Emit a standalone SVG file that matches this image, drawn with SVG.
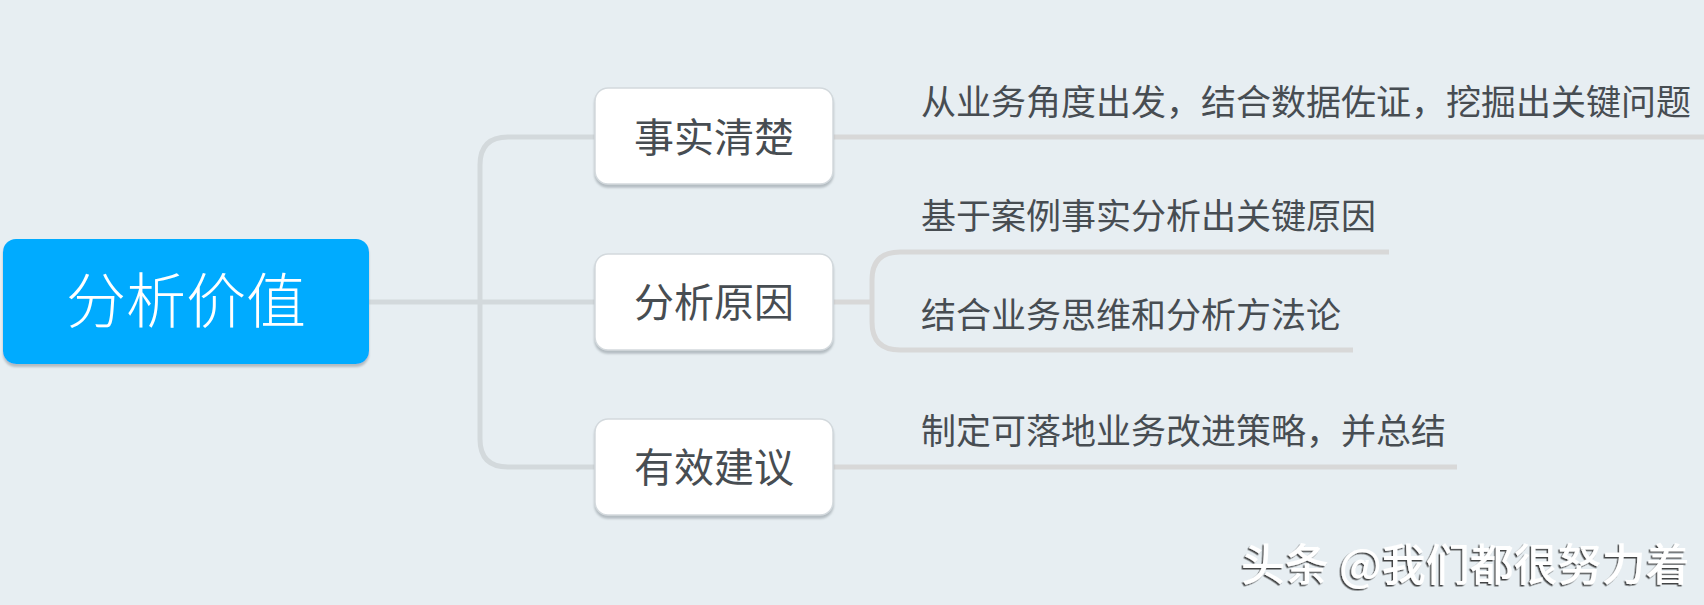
<svg xmlns="http://www.w3.org/2000/svg" width="1704" height="605" viewBox="0 0 1704 605">
<defs>
<style>
.trunk{fill:none;stroke:#d3d9dc;stroke-width:5}
.sub{fill:none;stroke:#d8d8d8;stroke-width:5}
.box{fill:#ffffff;stroke:#d3d9dd;stroke-width:1.5}
.t1{font-family:"Noto Sans CJK SC","Noto Sans",sans-serif;font-size:40px;fill:#474d52;text-anchor:middle;dominant-baseline:central}
.t2{font-family:"Noto Sans CJK SC","Noto Sans",sans-serif;font-size:35px;fill:#474d52;dominant-baseline:central}
.root{font-family:"Noto Sans CJK SC","Noto Sans",sans-serif;font-size:60px;font-weight:300;fill:#ffffff;text-anchor:middle;dominant-baseline:central}
.wm{font-family:"Noto Sans CJK SC","Noto Sans",sans-serif;font-size:44px;font-weight:500;fill:#ffffff;dominant-baseline:central}
</style>
<filter id="sh" x="-10%" y="-10%" width="120%" height="130%">
<feDropShadow dx="0" dy="3" stdDeviation="1.2" flood-color="#9ea7ad" flood-opacity="0.7"/>
</filter>
<filter id="wmsh" x="-5%" y="-20%" width="110%" height="150%">
<feDropShadow dx="-1.5" dy="1.5" stdDeviation="0.5" flood-color="#1a1a1a" flood-opacity="0.8"/>
</filter>
</defs>
<rect x="0" y="0" width="1704" height="605" fill="#e7eef2"/>
<g id="connectors">
<path class="trunk" d="M369,302 H595"/>
<path class="trunk" d="M595,137 H508 Q480,137 480,165 V439 Q480,467 508,467 H595"/>
<path class="sub" d="M833,137 H1704"/>
<path class="sub" d="M833,302 H872"/>
<path class="sub" d="M1389,252 H900 Q872,252 872,280 V322 Q872,350 900,350 H1353"/>
<path class="sub" d="M833,467 H1457"/>
</g>
<g id="root">
<rect x="3" y="239" width="366" height="125" rx="13" fill="#00abff" filter="url(#sh)"/>
<text class="root" x="186" y="296">分析价值</text>
</g>
<g id="node-fact">
<rect class="box" x="595" y="88" width="238" height="96" rx="13" filter="url(#sh)"/>
<text class="t1" x="714" y="135">事实清楚</text>
</g>
<g id="node-cause">
<rect class="box" x="595" y="254" width="238" height="96" rx="13" filter="url(#sh)"/>
<text class="t1" x="714" y="300">分析原因</text>
</g>
<g id="node-advice">
<rect class="box" x="595" y="419" width="238" height="96" rx="13" filter="url(#sh)"/>
<text class="t1" x="714" y="465">有效建议</text>
</g>
<g id="topic-fact-1">
<text class="t2" x="921" y="99">从业务角度出发，结合数据佐证，挖掘出关键问题</text>
</g>
<g id="topic-cause-1">
<text class="t2" x="921" y="213">基于案例事实分析出关键原因</text>
</g>
<g id="topic-cause-2">
<text class="t2" x="921" y="312">结合业务思维和分析方法论</text>
</g>
<g id="topic-advice-1">
<text class="t2" x="921" y="428">制定可落地业务改进策略，并总结</text>
</g>
<g id="watermark">
<text class="wm" x="1241" y="562" filter="url(#wmsh)">头条 @我们都很努力着</text>
</g>
</svg>
